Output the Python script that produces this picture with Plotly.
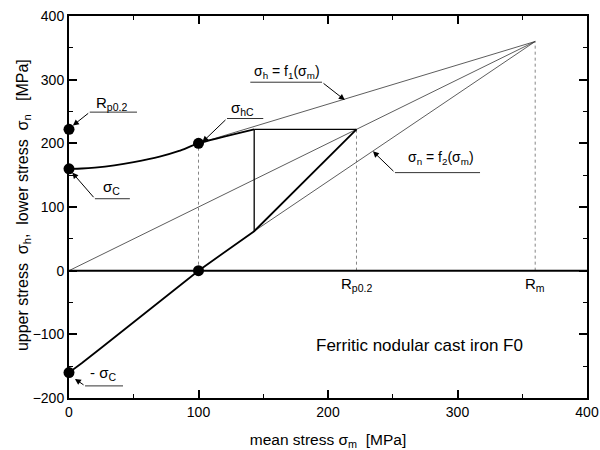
import plotly.graph_objects as go

# ---- data (MPa) ----
Rm = 360
Rp02 = 222
sigma_C = 160
sigma_hC = 200
x_hC = 100
x_knee = 143
y_knee_low = 62

upper_curve_x = [0, 10, 20, 35, 50, 70, 85, 100, 143]
upper_curve_y = [160, 160.5, 162, 165.5, 170.5, 179, 188, 200, 222]

lower_curve_x = [0, 10, 25, 50, 75, 100, 143, 222]
lower_curve_y = [-160, -145, -121, -81, -40, 0, 62, 222]

f1_x = [x_hC, Rm]
f1_y = [sigma_hC, Rm]
diag_x = [0, Rm]
diag_y = [0, Rm]
f2_x = [x_knee, Rm]
f2_y = [y_knee_low, Rm]

point_x = [0, 0, 0, 100, 100]
point_y = [222, 160, -160, 200, 0]

FONT = "Liberation Sans, Arial, sans-serif"
fig = go.Figure()

thin = dict(color="#333333", width=0.8)
fig.add_trace(go.Scatter(x=f1_x, y=f1_y, mode="lines", line=thin))
fig.add_trace(go.Scatter(x=diag_x, y=diag_y, mode="lines", line=thin))
fig.add_trace(go.Scatter(x=f2_x, y=f2_y, mode="lines", line=thin))

# dotted verticals
for xv, yv in [(x_hC, sigma_hC), (Rp02, Rp02), (Rm, Rm)]:
    fig.add_trace(go.Scatter(x=[xv, xv], y=[0, yv], mode="lines",
                             line=dict(color="#666666", width=0.8, dash="dot")))

# step lines
fig.add_trace(go.Scatter(x=[x_knee, x_knee], y=[y_knee_low, Rp02], mode="lines",
                         line=dict(color="black", width=1.3)))
fig.add_trace(go.Scatter(x=[x_knee, Rp02], y=[Rp02, Rp02], mode="lines",
                         line=dict(color="black", width=1.1)))

# thick curves
fig.add_trace(go.Scatter(x=upper_curve_x, y=upper_curve_y, mode="lines",
                         line=dict(color="black", width=1.8, shape="spline", smoothing=0.6)))
fig.add_trace(go.Scatter(x=lower_curve_x, y=lower_curve_y, mode="lines",
                         line=dict(color="black", width=1.8)))

# zero line
fig.add_trace(go.Scatter(x=[0, 400], y=[0, 0], mode="lines",
                         line=dict(color="black", width=2)))

fig.add_trace(go.Scatter(x=point_x, y=point_y, mode="markers",
                         marker=dict(color="black", size=11), cliponaxis=False))

# annotations: (text, text_x, text_y, tail_x, tail_y, head_x, head_y, underline_end_x)
labels = [
    ("R<sub>p0.2</sub>", 33, 263, 16, 249, 3, 228, 52.5),
    ("σ<sub>hC</sub>", 134, 255, 122, 239, 103, 202, 150),
    ("σ<sub>C</sub>", 33, 130, 20, 113, 2.5, 154, 47),
    ("- σ<sub>C</sub>", 26, -162, 12.4, -181, 4.6, -170, 41.7),
]
for t, tx, ty, ax_, ay_, hx, hy, ux in labels:
    fig.add_annotation(x=tx, y=ty, text=t, showarrow=False,
                       font=dict(family=FONT, size=15, color="black"))
    fig.add_shape(type="line", x0=ax_, y0=ay_, x1=ux, y1=ay_,
                  line=dict(color="#333333", width=1))
    fig.add_annotation(x=hx, y=hy, ax=ax_, ay=ay_, axref="x", ayref="y",
                       text="", showarrow=True, arrowhead=2, arrowsize=1.2,
                       arrowwidth=1, arrowcolor="black")

# f1 label
fig.add_annotation(x=168, y=312, text="σ<sub>h</sub> = f<sub>1</sub>(σ<sub>m</sub>)",
                   showarrow=False, font=dict(family=FONT, size=14, color="black"))
fig.add_shape(type="line", x0=140, y0=296, x1=195.4, y1=296,
              line=dict(color="#333333", width=1))
fig.add_annotation(x=213, y=268, ax=195.4, ay=296, axref="x", ayref="y",
                   text="", showarrow=True, arrowhead=2, arrowsize=1.2,
                   arrowwidth=1, arrowcolor="black")

# f2 label
fig.add_annotation(x=287, y=177, text="σ<sub>n</sub> = f<sub>2</sub>(σ<sub>m</sub>)",
                   showarrow=False, font=dict(family=FONT, size=14, color="black"))
fig.add_shape(type="line", x0=251.7, y0=154, x1=317.4, y1=154,
              line=dict(color="#333333", width=1))
fig.add_annotation(x=234.7, y=187.4, ax=251.7, ay=154, axref="x", ayref="y",
                   text="", showarrow=True, arrowhead=2, arrowsize=1.2,
                   arrowwidth=1, arrowcolor="black")

# axis markers
fig.add_annotation(x=Rp02, y=-21, text="R<sub>p0.2</sub>", showarrow=False,
                   font=dict(family=FONT, size=15, color="black"))
fig.add_annotation(x=Rm, y=-21, text="R<sub>m</sub>", showarrow=False,
                   font=dict(family=FONT, size=15, color="black"))
fig.add_annotation(x=271, y=-118, text="Ferritic nodular cast iron F0", showarrow=False,
                   font=dict(family=FONT, size=17, color="black"))

# y-axis title as a rotated annotation for precise placement
fig.add_annotation(xref="paper", yref="paper", x=0, y=0.505, xshift=-46,
                   xanchor="center", yanchor="middle", textangle=-90, showarrow=False,
                   text="upper stress&nbsp;&nbsp;σ<sub>h</sub>,&nbsp;&nbsp;lower stress&nbsp;&nbsp;σ<sub>n</sub>&nbsp;&nbsp;&nbsp;[MPa]",
                   font=dict(family=FONT, size=16, color="black"))

axis_common = dict(showgrid=False, zeroline=False, showline=True, linecolor="black",
                   linewidth=2, mirror="ticks", ticks="inside", ticklen=8, tickwidth=1.5,
                   tickcolor="black", tickfont=dict(family=FONT, size=14, color="black"),
                   automargin=False, ticklabeloverflow="allow",
                   minor=dict(ticks="inside", ticklen=4, tickwidth=1.2, tickcolor="black", dtick=50))

fig.update_xaxes(range=[0, 400], dtick=100, tick0=0,
                 title=dict(text="mean stress σ<sub>m</sub>&nbsp;&nbsp;[MPa]",
                            font=dict(family=FONT, size=15.5, color="black")),
                 **axis_common)
fig.update_yaxes(range=[-200, 400], dtick=100, tick0=0, **axis_common)

fig.update_layout(width=600, height=450, showlegend=False,
                  margin=dict(l=69, r=13, t=16, b=52),
                  plot_bgcolor="white", paper_bgcolor="white")

fig.write_html("out.html", config={"displayModeBar": False},
               post_script="document.body.style.margin='0';document.body.style.overflow='hidden';")
